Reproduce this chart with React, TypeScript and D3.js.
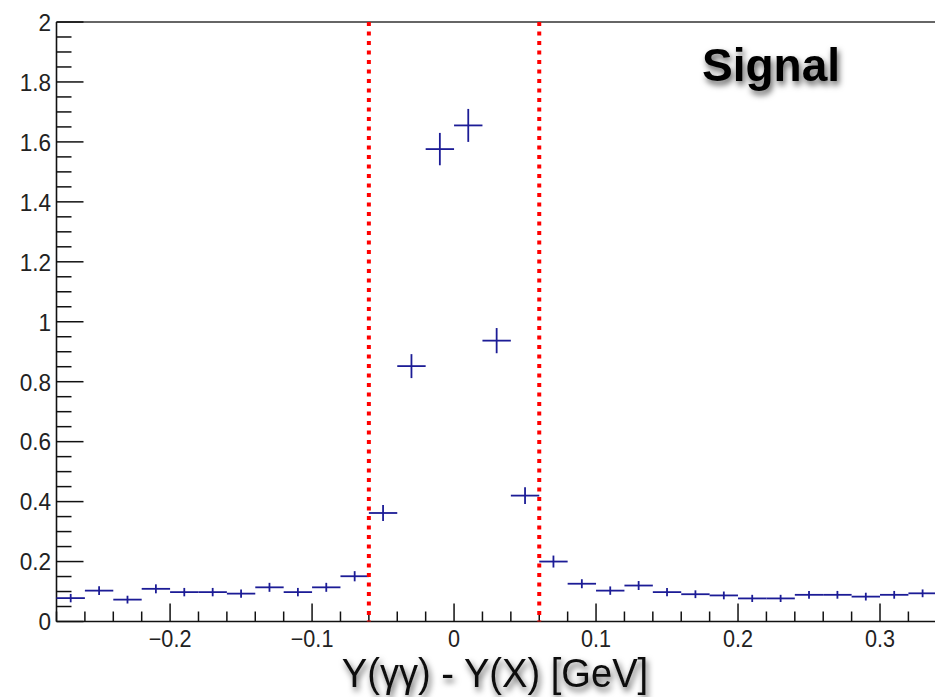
import React from "react";
import * as d3 from "d3";

const binCenters = [
  -0.27, -0.25, -0.23, -0.21, -0.19, -0.17, -0.15, -0.13, -0.11, -0.09, -0.07,
  -0.05, -0.03, -0.01, 0.01, 0.03, 0.05, 0.07, 0.09, 0.11, 0.13, 0.15, 0.17,
  0.19, 0.21, 0.23, 0.25, 0.27, 0.29, 0.31, 0.33,
];
const values = [
  0.078, 0.103, 0.073, 0.109, 0.098, 0.098, 0.093, 0.114, 0.098, 0.114, 0.151,
  0.362, 0.852, 1.576, 1.655, 0.937, 0.42, 0.2, 0.126, 0.103, 0.12, 0.098,
  0.091, 0.087, 0.077, 0.077, 0.089, 0.089, 0.083, 0.089, 0.094,
];
const errors = [
  0.014, 0.015, 0.013, 0.015, 0.014, 0.014, 0.014, 0.015, 0.014, 0.015, 0.017,
  0.027, 0.04, 0.054, 0.055, 0.042, 0.028, 0.02, 0.015, 0.014, 0.015, 0.014,
  0.013, 0.013, 0.012, 0.012, 0.013, 0.013, 0.013, 0.013, 0.013,
];
const binWidth = 0.02;
const xMajorTicks = [-0.2, -0.1, 0, 0.1, 0.2, 0.3];
const xTickLabels = ["\u22120.2", "\u22120.1", "0", "0.1", "0.2", "0.3"];
const yMajorTicks = [0, 0.2, 0.4, 0.6, 0.8, 1, 1.2, 1.4, 1.6, 1.8, 2];
const yTickLabels = ["0", "0.2", "0.4", "0.6", "0.8", "1", "1.2", "1.4", "1.6", "1.8", "2"];
const cutLines = [-0.06, 0.06];
const xTitle = "Y(\u03b3\u03b3) - Y(X) [GeV]";
const label = "Signal";

const W = 935;
const H = 697;
const left = 56.5;
const top = 22;
const bottom = 621.5;

export default function App() {
  const x = d3.scaleLinear().domain([-0.28, 0.34]).range([left, 936.8]);
  const y = d3.scaleLinear().domain([0, 2]).range([bottom, top]);

  const xMinor = d3.range(-0.28, 0.3401, 0.02).map((v) => +v.toFixed(3));
  const yMinor = d3.range(0, 2.0001, 0.05).map((v) => +v.toFixed(3));
  const font = "'Liberation Sans', Arial, Helvetica, sans-serif";
  const blue = "#1c1c96";

  return (
    <svg
      width={W}
      height={H}
      style={{ position: "absolute", left: 0, top: 0, background: "#fff" }}
    >
      <defs>
        <filter id="shadow" x="-20%" y="-40%" width="140%" height="180%">
          <feDropShadow dx="2" dy="4" stdDeviation="3" floodColor="#000" floodOpacity="0.65" />
        </filter>
      </defs>
      <rect x={0} y={0} width={W} height={H} fill="#fff" />

      {/* frame */}
      <line x1={left} x2={W + 5} y1={top} y2={top} stroke="#333" strokeWidth={1.5} />
      <line x1={left} x2={left} y1={top} y2={bottom} stroke="#111" strokeWidth={1.6} />
      <line x1={left} x2={W + 5} y1={bottom} y2={bottom} stroke="#111" strokeWidth={1.6} />

      {/* y ticks */}
      {yMinor.map((v, i) => {
        const major = Math.abs(v / 0.2 - Math.round(v / 0.2)) < 1e-6;
        return (
          <line
            key={"ym" + i}
            x1={left}
            x2={left + (major ? 27 : 15)}
            y1={y(v)}
            y2={y(v)}
            stroke="#111"
            strokeWidth={1.5}
          />
        );
      })}
      {yMajorTicks.map((v, i) => (
        <text
          key={"yl" + i}
          transform={`translate(51,${y(v) + 8.8}) scale(0.94,1)`}
          textAnchor="end"
          fontFamily={font}
          fontSize={24}
          fill="#222"
        >
          {yTickLabels[i]}
        </text>
      ))}

      {/* x ticks */}
      {xMinor.map((v, i) => {
        const major = xMajorTicks.some((m) => Math.abs(m - v) < 1e-6);
        return (
          <line
            key={"xm" + i}
            x1={x(v)}
            x2={x(v)}
            y1={bottom}
            y2={bottom - (major ? 18 : 10)}
            stroke="#111"
            strokeWidth={1.5}
          />
        );
      })}
      {xMajorTicks.map((v, i) => (
        <text
          key={"xl" + i}
          transform={`translate(${x(v)},646.5) scale(0.94,1)`}
          textAnchor="middle"
          fontFamily={font}
          fontSize={23}
          fill="#222"
        >
          {xTickLabels[i]}
        </text>
      ))}

      {/* data points */}
      {binCenters.map((c, i) => (
        <g key={"p" + i} stroke={blue} strokeWidth={1.8}>
          <line
            x1={x(c - binWidth / 2)}
            x2={x(c + binWidth / 2)}
            y1={y(values[i])}
            y2={y(values[i])}
          />
          <line
            x1={x(c)}
            x2={x(c)}
            y1={y(values[i] - errors[i])}
            y2={y(values[i] + errors[i])}
          />
        </g>
      ))}

      {/* cut lines */}
      {cutLines.map((v, i) => (
        <line
          key={"cut" + i}
          x1={x(v)}
          x2={x(v)}
          y1={top}
          y2={bottom}
          stroke="#ff0000"
          strokeWidth={4}
          strokeDasharray="4 5.5"
        />
      ))}

      {/* titles */}
      <g filter="url(#shadow)">
        <text
          transform="translate(495,687) scale(0.93,1)"
          textAnchor="middle"
          fontFamily={font}
          fontSize={41}
          fill="#111"
        >
          {xTitle}
        </text>
      </g>
      <text
        x={702}
        y={81}
        fontFamily={font}
        fontWeight="bold"
        fontSize={46}
        fill="#000"
        filter="url(#shadow)"
      >
        {label}
      </text>
    </svg>
  );
}
